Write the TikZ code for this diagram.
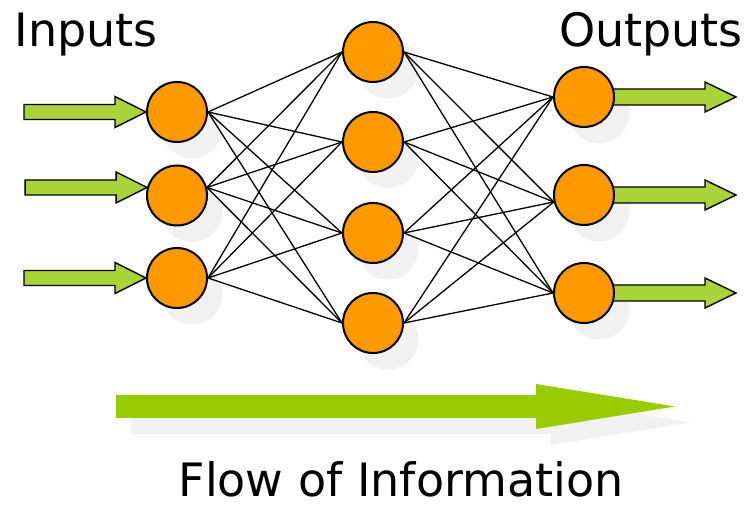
\documentclass[tikz,border=0pt]{standalone}
\usepackage{fontspec}
\setmainfont{DejaVu Sans}
\usetikzlibrary{calc}
\definecolor{orng}{HTML}{FF9900}
\definecolor{lgreen}{RGB}{168,212,58}
\definecolor{bgreen}{HTML}{99CC00}
\definecolor{shad}{gray}{0.945}
\pgfdeclarelayer{bg}
\pgfsetlayers{bg,main}
\begin{document}
\begin{tikzpicture}[x=1pt,y=-1pt,
  neuron/.style={circle,draw=black,line width=2pt,fill=orng,minimum size=60pt,inner sep=0pt},
  link/.style={line width=1.3pt,draw=black},
  smallarrow/.style={draw=black,line width=1.4pt,fill=lgreen,line join=miter},
  bigarrow/.style={fill=bgreen},
  bigshadow/.style={fill=shad},
  lbl/.style={font=\fontsize{46}{50}\selectfont,anchor=base,inner sep=0pt}]
\useasboundingbox (0,0) rectangle (745,510);

% neurons
\node[neuron] (i1) at (177,112) {};
\node[neuron] (i2) at (177,195.5) {};
\node[neuron] (i3) at (177,278) {};
\node[neuron] (h1) at (373,52) {};
\node[neuron] (h2) at (373,142) {};
\node[neuron] (h3) at (373,233) {};
\node[neuron] (h4) at (373,323) {};
\node[neuron] (o1) at (584,97) {};
\node[neuron] (o2) at (584,195) {};
\node[neuron] (o3) at (584,293) {};

\begin{pgfonlayer}{bg}
  % shadows
  \foreach \n in {i1,i2,i3,h1,h2,h3,h4,o1,o2,o3}
    \fill[shad] ($(\n.center)+(15,16)$) circle (30.5pt);
  % links
  \foreach \a in {i1.east,i2.15,i3.east}
    \foreach \b in {h1,h2,h3,h4}
      \draw[link] (\a) -- (\b.west);
  \foreach \a in {h1,h2,h3,h4}
    \foreach \b in {o1.west,o2.193,o3.west}
      \draw[link] (\a.east) -- (\b);
  % output arrows
  \foreach \n in {o1,o2,o3}
    \draw[smallarrow] (\n.center) -- ++(0,-8) -- ++(121,0) -- ++(0,-7)
      -- ++(31,15) -- ++(-31,15) -- ++(0,-7) -- ++(-121,0) -- cycle;
\end{pgfonlayer}

% input arrows
\foreach \t in {i1.west,i2.165,i3.west}
  \draw[smallarrow] (\t) -- ++(-31,15.5) -- ++(0,-8) -- ++(-91,0) -- ++(0,-15)
    -- ++(91,0) -- ++(0,-8) -- cycle;

% flow arrow
\coordinate (fs) at (116,406.5);
\fill[bigshadow] ($(fs)+(15,16)$) -- ++(0,-11.5) -- ++(420,0) -- ++(0,-11)
  -- ++(139,22.5) -- ++(-139,22.5) -- ++(0,-11) -- ++(-420,0) -- cycle;
\fill[bigarrow] (fs) -- ++(0,-11.5) -- ++(420,0) -- ++(0,-11)
  -- ++(139,22.5) -- ++(-139,22.5) -- ++(0,-11) -- ++(-420,0) -- cycle;

% labels
\node[lbl] (tin) at (86,47) {Inputs};
\node[lbl] (tout) at (651,47) {Outputs};
\node[lbl] (tflow) at (401,497) {Flow of Information};
\end{tikzpicture}
\end{document}
